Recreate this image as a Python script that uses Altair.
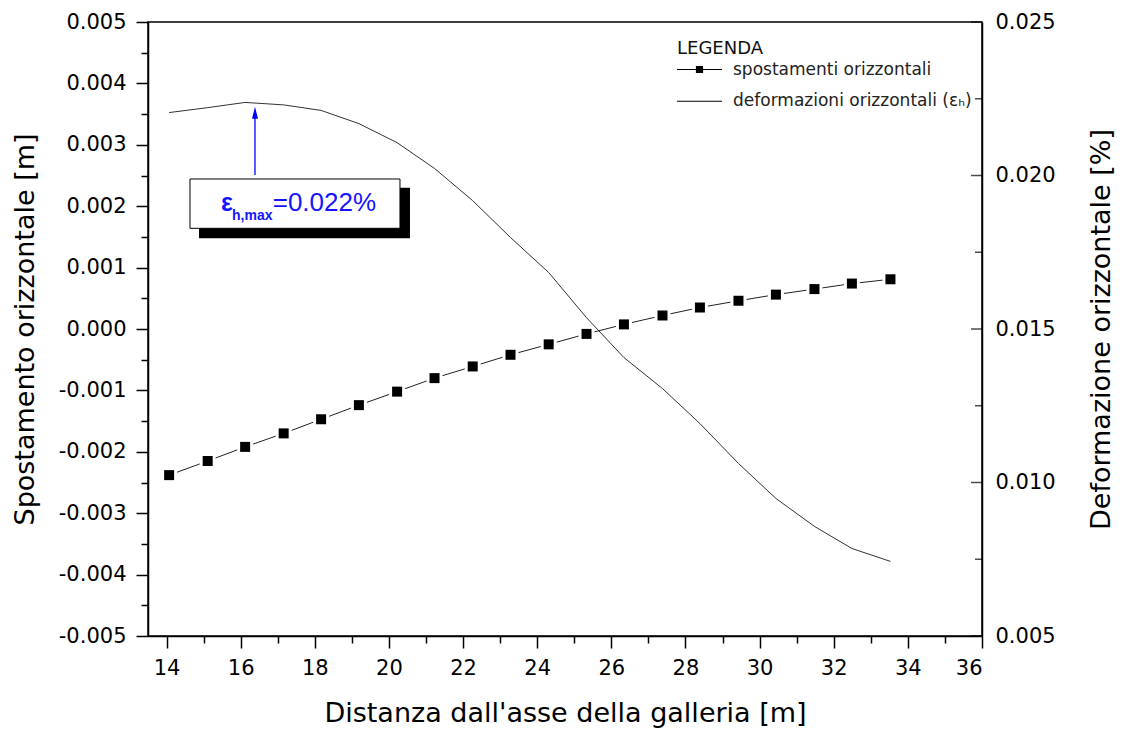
import altair as alt
import pandas as pd

# ---------------- data ----------------
distanza = [14.07, 15.11, 16.12, 17.16, 18.17, 19.19, 20.22, 21.23, 22.26, 23.28,
            24.31, 25.33, 26.34, 27.38, 28.39, 29.43, 30.44, 31.48, 32.49, 33.53]
spostamenti = [-0.00238, -0.00215, -0.00192, -0.00170, -0.00147, -0.00124, -0.00102, -0.00080, -0.00061, -0.00042,
               -0.00025, -0.00008, 0.000075, 0.00022, 0.00035, 0.00046, 0.00056, 0.00065, 0.00074, 0.00081]
deformazioni = [0.02205, 0.02221, 0.02238, 0.02230, 0.02212, 0.02169, 0.02107, 0.02023, 0.01918, 0.01798,
                0.01684, 0.01537, 0.01407, 0.01306, 0.01192, 0.01062, 0.00948, 0.00857, 0.00785, 0.00743]

x_ticks_major = [14, 16, 18, 20, 22, 24, 26, 28, 30, 32, 34, 36]
x_ticks_minor = [15, 17, 19, 21, 23, 25, 27, 29, 31, 33, 35]
yl_ticks_major = [-0.005, -0.004, -0.003, -0.002, -0.001, 0.0, 0.001, 0.002, 0.003, 0.004, 0.005]
yl_ticks_minor = [-0.0045, -0.0035, -0.0025, -0.0015, -0.0005, 0.0005, 0.0015, 0.0025, 0.0035, 0.0045]
yr_ticks_major = [0.005, 0.010, 0.015, 0.020, 0.025]
yr_ticks_minor = [0.0075, 0.0125, 0.0175, 0.0225]

series_names = ["spostamenti orizzontali", "deformazioni orizzontali (εₕ)"]
legend_title = "LEGENDA"
x_title = "Distanza dall'asse della galleria [m]"
yl_title = "Spostamento orizzontale [m]"
yr_title = "Deformazione orizzontale [%]"

ann_eps = "ε"
ann_sub = "h,max"
ann_val = "=0.022%"

# annotation placement (data units)
box_x, box_x2, box_y, box_y2 = 14.633, 20.298, 0.001640, 0.002443
shd_x, shd_x2, shd_y, shd_y2 = 14.876, 20.568, 0.001477, 0.002301
arrow_x, arrow_y0, arrow_y1, arrow_head_y = 16.386, 0.002508, 0.00345, 0.003523
eps_x, sub_x, val_x = 15.469, 15.766, 16.864
eps_y, sub_y = 0.001927, 0.001775

# ---------------- layout ----------------
W, H = 834, 614
FONT = "DejaVu Sans"

xs = alt.Scale(domain=[13.5, 36], nice=False, zero=False)
ysl = alt.Scale(domain=[-0.005, 0.005], nice=False, zero=False)
ysr = alt.Scale(domain=[0.005, 0.025], nice=False, zero=False)

x_axis = alt.Axis(
    values=sorted(x_ticks_major + x_ticks_minor),
    labelExpr="datum.value % 2 == 0 ? format(datum.value, 'd') : ''",
    tickSize={"condition": {"test": "datum.value % 2 != 0", "value": 7}, "value": 12},
    labelPadding=9, titlePadding=22, grid=False,
)
yl_axis = alt.Axis(
    values=sorted(yl_ticks_major + yl_ticks_minor),
    labelExpr="abs(datum.value * 1000 - round(datum.value * 1000)) > 0.1 ? '' : "
              "(datum.value < -1e-9 ? '-' : '') + format(abs(datum.value), '.3f')",
    tickSize={"condition": {"test": "abs(datum.value * 1000 - round(datum.value * 1000)) > 0.1", "value": 7},
              "value": 12},
    labelPadding=10, titlePadding=19, grid=False,
)
yr_axis = alt.Axis(
    orient="right", values=yr_ticks_major,
    labelExpr="format(datum.value, '.3f')",
    ticks=False, tickSize=0, labelPadding=13, titlePadding=33,
    titleAngle=270, titleBaseline="top", grid=False,
)

X = alt.X("x:Q", scale=xs, axis=x_axis, title=x_title)
YL = alt.Y("y:Q", scale=ysl, axis=yl_axis, title=yl_title)
YR = alt.Y("y:Q", scale=ysr, axis=yr_axis, title=yr_title)

df_sp = pd.DataFrame({"x": distanza, "y": spostamenti})
df_def = pd.DataFrame({"x": distanza, "y": deformazioni})

line_sp = alt.Chart(df_sp).mark_line(color="#222222", strokeWidth=1).encode(x=X, y=YL)
sq_gap = alt.Chart(df_sp).mark_square(size=256, color="white", opacity=1).encode(x=X, y=YL)
sq = alt.Chart(df_sp).mark_square(size=100, color="black", opacity=1).encode(x=X, y=YL)

# annotation
df_shadow = pd.DataFrame({"x": [shd_x], "x2": [shd_x2], "y": [shd_y], "y2": [shd_y2]})
df_box = pd.DataFrame({"x": [box_x], "x2": [box_x2], "y": [box_y], "y2": [box_y2]})
shadow = alt.Chart(df_shadow).mark_rect(color="black").encode(x=X, x2="x2", y=YL, y2="y2")
box = alt.Chart(df_box).mark_rect(fill="white", stroke="black", strokeWidth=1).encode(x=X, x2="x2", y=YL, y2="y2")
df_arrow = pd.DataFrame({"x": [arrow_x], "y": [arrow_y0], "y2": [arrow_y1]})
arrow = alt.Chart(df_arrow).mark_rule(color="blue", strokeWidth=1.3).encode(x=X, y=YL, y2="y2")
df_head = pd.DataFrame({"x": [arrow_x], "y": [arrow_head_y]})
head = alt.Chart(df_head).mark_point(shape="M0,-1L0.5,1L-0.5,1Z", size=144, filled=True,
                                     color="blue", opacity=1).encode(x=X, y=YL)
t_eps = alt.Chart(pd.DataFrame({"x": [eps_x], "y": [eps_y], "t": [ann_eps]})).mark_text(
    align="left", baseline="alphabetic", font="Liberation Sans", fontSize=25, fontWeight="bold",
    color="#1414ff").encode(x=X, y=YL, text="t:N")
t_sub = alt.Chart(pd.DataFrame({"x": [sub_x], "y": [sub_y], "t": [ann_sub]})).mark_text(
    align="left", baseline="alphabetic", font="Liberation Sans", fontSize=14, fontWeight="bold",
    color="#1414ff").encode(x=X, y=YL, text="t:N")
t_val = alt.Chart(pd.DataFrame({"x": [val_x], "y": [eps_y], "t": [ann_val]})).mark_text(
    align="left", baseline="alphabetic", font="Liberation Sans", fontSize=26,
    color="#1414ff").encode(x=X, y=YL, text="t:N")

# legend (built by Vega-Lite from a shape scale with custom, fill-only symbols)
sym_line_square = "M-1,-0.024H1V0.024H-1ZM-0.16,-0.16H0.16V0.16H-0.16Z"
sym_line = "M-1,-0.024H1V0.024H-1Z"
df_leg = pd.DataFrame({"serie": series_names})
legend_layer = alt.Chart(df_leg).mark_point(opacity=0, filled=True, color="black").encode(
    shape=alt.Shape(
        "serie:N",
        scale=alt.Scale(domain=series_names, range=[sym_line_square, sym_line]),
        legend=alt.Legend(
            title=legend_title, orient="none", legendX=529, legendY=18, padding=0,
            titleFont=FONT, titleFontSize=18, titleFontWeight="normal", titleColor="#111111",
            titlePadding=1.5, labelFont=FONT, labelFontSize=17, labelColor="#222222",
            labelLimit=0, labelOffset=11, symbolSize=2025, symbolOpacity=1, symbolFillColor="black",
            symbolStrokeColor="black", symbolStrokeWidth=0, clipHeight=20, rowPadding=11.7,
        ),
    )
)

left = alt.layer(line_sp, sq_gap, sq, shadow, box, arrow, head, t_eps, t_sub, t_val, legend_layer)

line_def = alt.Chart(df_def).mark_line(color="#333333", strokeWidth=1).encode(x=X, y=YR)
tick_maj = alt.Chart(pd.DataFrame({"y": yr_ticks_major})).mark_tick(
    orient="horizontal", size=11, thickness=1.5, color="black").encode(y=YR, x=alt.value(W - 5.5))
tick_min = alt.Chart(pd.DataFrame({"y": yr_ticks_minor})).mark_tick(
    orient="horizontal", size=7, thickness=1.5, color="black").encode(y=YR, x=alt.value(W - 3.5))
right = alt.layer(line_def, tick_maj, tick_min)

chart = alt.layer(left, right).resolve_scale(y="independent").properties(
    width=W, height=H,
    padding={"left": 148, "top": 22, "right": 143, "bottom": 97},
    autosize=alt.AutoSizeParams(type="none"),
    background="white",
).configure_view(stroke="black", strokeWidth=1.5).configure_axis(
    domainColor="black", domainWidth=1.5, tickColor="black", tickWidth=1.5,
    labelColor="black", titleColor="black", labelFont=FONT, titleFont=FONT,
    labelFontSize=21, titleFontSize=27, titleFontWeight="normal",
)

chart.save("out.html", embed_options={"renderer": "svg", "actions": False})
